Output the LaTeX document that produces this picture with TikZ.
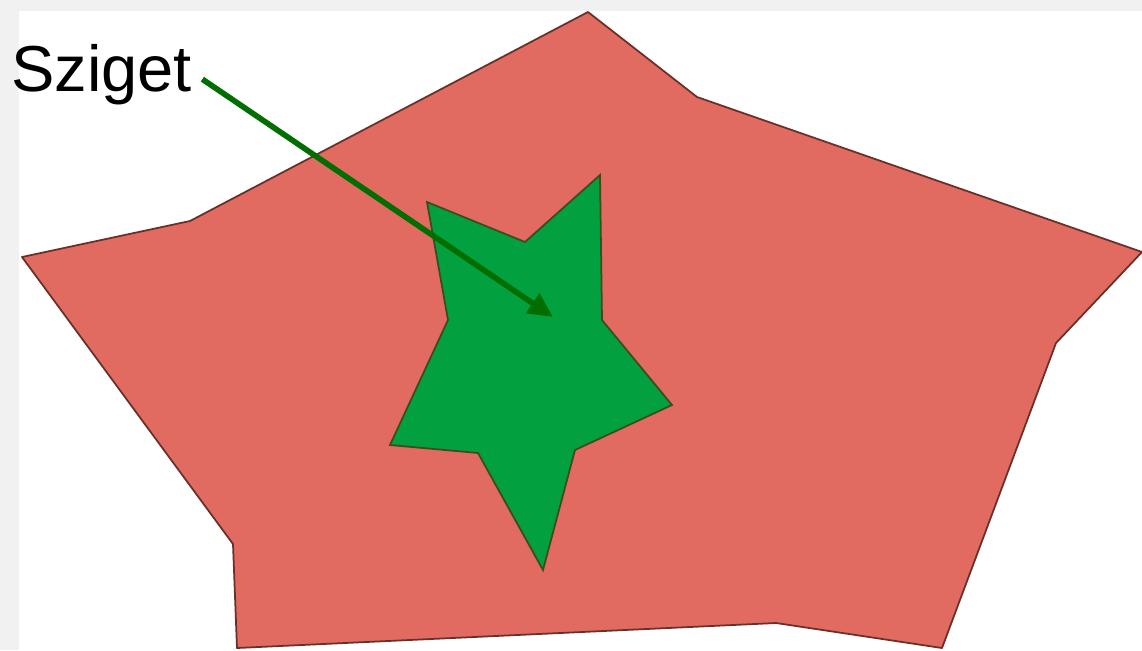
\documentclass[tikz,border=0pt]{standalone}
\usepackage{fontspec}
\setmainfont{Liberation Sans}
\usetikzlibrary{arrows.meta,positioning}
\definecolor{land}{RGB}{226,107,97}
\definecolor{landedge}{RGB}{105,48,42}
\definecolor{isle}{RGB}{2,160,62}
\definecolor{isleedge}{RGB}{62,75,30}
\definecolor{pointer}{RGB}{0,110,0}
\definecolor{frame}{RGB}{241,241,241}
\begin{document}
\begin{tikzpicture}[x=0.02cm,y=-0.02cm,
  landshape/.style={fill=land,draw=landedge,line width=1pt,line join=round},
  isleshape/.style={fill=isle,draw=isleedge,line width=1pt,line join=miter},
  pointerarrow/.style={draw=pointer,line width=3.2pt,-{Triangle[length=14pt,width=13pt]}}]
% page
\fill[frame] (0,0) rectangle (1142,650);
\fill[white] (19,11) rectangle (1142,650);
\useasboundingbox (0,0) rectangle (1142,650);
% main land
\draw[landshape] (588,12) -- (697,97) -- (1142,252) -- (1056,343) -- (942,648)
  -- (776,623) -- (237,648) -- (233,544) -- (22,257) -- (190,221) -- cycle;
% island
\draw[isleshape] (427,202) -- (525,242) -- (600,175) -- (602,320) -- (672,405)
  -- (575,450) -- (543,570) -- (478,453) -- (390,445) -- (448,320) -- cycle;
% label
\node[anchor=base west,inner sep=0pt,font=\fontsize{37}{44}\selectfont] (lbl) at (11,91) {Sziget};
\coordinate (tip) at (553,317);
\draw[pointerarrow] ([shift={(10,5)}]lbl.east) -- (tip);
\end{tikzpicture}
\end{document}
